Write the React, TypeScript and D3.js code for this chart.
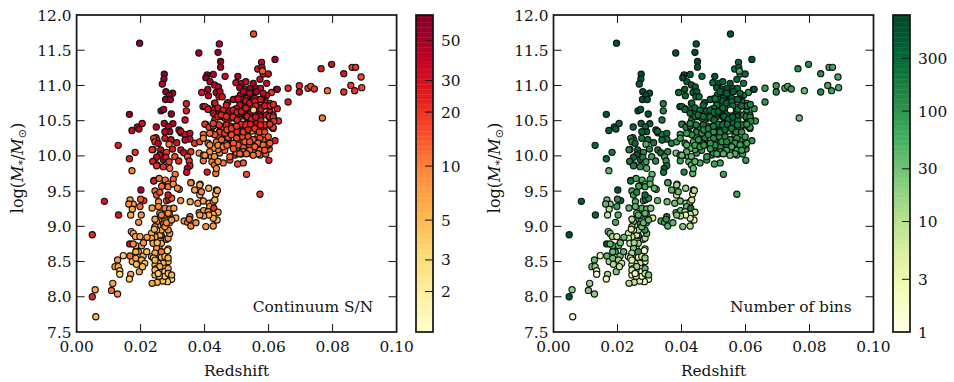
import React from 'react';
import * as d3 from 'd3';

// each row: redshift, log stellar mass, continuum S/N, number of bins
type Row = [number, number, number, number];

const lowMassOutliers: Row[] = [
  [.006,7.717,5,1],[.0058,8.1,6,18],[.0049,8.0,22,500],[.0049,8.88,22,500],[.0128,8.04,8,20],[.0109,8.09,12,22],[.0113,8.19,7,18],
  [.0087,9.355,28,400],[.0131,9.161,28,300],
];

const lowMassClump: Row[] = [
  [.0146,8.584,4,4],[.0128,8.522,8,35],[.012,8.428,7,25],[.013,8.428,6,20],[.0135,8.37,3,2],[.0135,8.32,3,1],[.0169,8.319,7,15],[.0165,8.253,4,3],
  [.0167,8.58,12,40],[.0174,8.5,5,15],[.0185,8.546,7,30],[.0193,8.64,6,40],[.0208,8.58,6,25],[.0185,8.64,6,35],[.0203,8.522,5,15],[.0213,8.475,5,8],
  [.0196,8.357,7,25],[.0187,8.46,5,12],[.0206,8.428,5,8],[.0185,8.726,6,50],[.0203,8.726,6,50],[.0219,8.64,5,40],[.0171,8.925,7,25],[.0177,8.9,8,30],
  [.0184,8.854,6,15],[.0198,8.854,6,6],[.0209,8.768,8,30],[.0166,8.75,30,400],[.0177,8.75,9,40],[.0234,8.83,6,6],[.022,8.844,7,35],[.0239,8.76,6,5],
  [.0252,8.768,5,15],[.0243,8.958,5,6],[.0167,9.374,7,30],[.0177,9.313,7,20],[.0163,9.317,9,40],[.021,9.365,20,300],[.02,9.384,15,120],[.0198,9.28,12,80],
  [.0174,9.242,6,12],[.0169,9.161,6,8],[.0202,9.161,9,50],[.0194,9.057,9,60],
];

const lowerColumn: Row[] = [
  [.0234,8.57,5,3],[.0252,8.64,8,30],[.0258,8.688,6,8],[.0255,8.593,5,6],[.0251,8.522,5,4],[.0265,8.56,5,5],[.0281,8.532,4,3],[.0286,8.5,4,4],
  [.027,8.475,5,6],[.0255,8.475,5,4],[.0245,8.45,5,5],[.0276,8.404,4,2],[.025,8.404,4,2],[.0245,8.31,4,3],[.0265,8.31,5,4],[.0276,8.357,3,1],
  [.0286,8.286,3,2],[.0297,8.248,3,2],[.0284,8.215,4,3],[.0269,8.224,5,5],[.0252,8.205,5,8],[.0236,8.191,7,12],[.0286,8.678,3,1],[.0284,8.655,3,2],
  [.0265,8.76,6,15],[.0281,8.816,6,10],[.0286,8.83,8,10],[.0265,8.868,20,100],[.026,8.877,6,6],[.0291,8.9,7,35],[.0286,8.948,9,100],[.0265,8.948,6,15],
  [.025,8.948,5,5],[.029,9.052,7,50],[.0255,9.02,6,12],[.0271,9.043,18,80],[.0258,9.1,8,30],[.0274,9.114,6,8],[.029,9.175,8,20],[.031,9.118,6,6],
  [.0276,9.256,10,50],[.0291,9.246,9,40],[.0304,9.256,7,25],[.0256,9.35,9,50],[.0256,9.28,9,40],[.0236,9.26,7,40],[.0281,9.365,12,60],[.0288,9.38,25,180],
  [.0297,9.398,14,120],[.0286,9.445,28,300],[.0245,9.502,12,60],[.025,9.445,14,80],[.026,9.483,16,150],[.0325,9.365,8,40],
];

const lowerColumnFill: Row[] = [
  [.0245,8.85,7,8],[.0234,8.9,6,6],[.025,9.07,7,20],[.0245,8.995,6,10],[.0271,9.15,10,60],[.0276,8.995,8,30],[.0281,9.05,9,40],[.0286,9.185,9,40],
  [.0297,9.09,8,40],[.026,9.185,9,30],[.0245,9.1,7,12],[.0265,9.16,10,40],[.025,8.69,8,25],[.0245,8.62,6,12],[.024,8.55,4,4],[.0265,8.64,12,100],
  [.0276,8.57,5,6],[.0286,8.55,6,20],[.0245,8.52,5,5],[.026,8.43,6,15],[.0286,8.4,6,40],[.0276,8.29,4,2],[.0258,8.29,5,4],[.0245,8.38,5,6],
  [.0286,8.33,5,10],[.0255,8.33,4,2],[.0297,8.31,6,25],
];

const midMassPatch: Row[] = [
  [.0355,9.35,7,35],[.0379,9.327,8,30],[.0396,9.36,7,30],[.0414,9.327,6,12],[.0427,9.346,7,10],[.0432,9.374,5,6],[.0416,9.28,9,40],[.0429,9.256,20,200],
  [.0442,9.2,6,8],[.0383,9.194,7,30],[.0397,9.223,8,35],[.0411,9.208,7,8],[.0427,9.17,6,5],[.0439,9.09,5,3],[.0427,9.114,6,6],[.0413,9.161,6,4],
  [.0397,9.147,7,12],[.0385,9.161,8,25],[.0404,8.996,8,25],[.0427,9.005,7,10],[.0336,9.076,8,60],[.0347,9.057,9,50],[.0354,9.137,10,100],[.0352,9.1,12,100],
  [.0357,9.005,10,50],[.0373,9.052,9,40],[.0385,9.445,5,6],[.039,9.492,10,40],[.0369,9.516,7,40],[.0357,9.62,10,60],[.0385,9.587,6,15],[.0413,9.54,6,15],
  [.0437,9.516,6,12],[.0435,9.46,5,5],[.0201,9.516,45,500],[.0241,9.644,25,200],[.0258,9.68,11,60],[.027,9.578,14,100],[.0286,9.563,12,70],[.0302,9.6,9,40],
  [.0321,9.525,10,50],[.0266,9.57,12,70],[.0315,9.54,9,40],[.044,9.51,6,10],
];

const midColumn: Row[] = [
  [.0173,9.79,10,40],[.0165,9.96,25,300],[.0183,10.05,20,200],[.013,10.15,25,300],[.0173,10.36,35,350],[.019,10.41,40,400],[.0205,10.46,30,300],[.0195,10.38,40,400],
  [.0165,10.59,60,500],[.0197,11.6,55,500],[.024,9.92,25,200],[.0252,9.87,20,150],[.0242,9.65,30,300],[.0239,10.09,18,150],[.0249,10.41,40,300],[.0248,10.26,25,200],
  [.0251,10.22,18,150],[.0236,10.088,20,150],[.0263,10.083,30,250],[.0269,10.036,25,200],[.0281,10.05,18,120],[.026,10.012,35,300],[.025,9.98,35,300],[.0271,9.95,45,350],
  [.0279,9.98,25,150],[.0238,9.92,25,200],[.025,9.86,20,150],[.0271,9.847,20,120],[.0289,9.918,18,80],[.0307,9.989,16,70],[.0319,9.927,22,120],[.0326,10.083,30,200],
  [.0335,10.045,35,250],[.0357,10.06,20,130],[.0347,9.989,14,80],[.0352,9.927,20,100],[.0354,9.861,25,150],[.0346,9.823,45,400],[.0344,9.766,30,200],[.0291,9.823,12,50],
  [.0308,9.738,11,40],[.0302,9.667,13,60],[.0277,9.657,11,50],[.0286,9.6,10,50],[.0241,10.249,20,150],[.0245,10.2,20,120],[.0255,10.178,40,300],[.0276,10.249,30,200],
  [.0295,10.23,35,250],[.0289,10.164,11,50],[.0313,10.187,30,200],[.03,10.097,25,150],[.0274,10.46,45,400],[.0301,10.457,45,400],[.0287,10.414,40,300],[.0291,10.344,50,450],
  [.0276,10.344,40,350],[.0296,10.594,55,500],[.0264,10.64,60,500],[.0272,10.66,50,450],[.0274,11.16,60,600],[.0273,11.09,50,500],[.0268,11.02,40,400],[.0279,10.91,60,600],
  [.03,10.89,50,500],[.0289,10.86,55,500],[.0278,10.8,60,600],[.0293,10.8,55,500],[.032,10.367,30,250],[.0326,10.329,30,250],[.0338,10.306,30,200],[.0354,10.32,35,250],
  [.0354,10.239,35,250],[.0339,10.225,40,300],[.0325,10.35,35,300],[.0343,10.74,25,150],[.0343,10.64,25,150],[.0339,10.51,30,200],
];

const orangeBand: Row[] = [
  [.0369,10.18,20,150],[.0385,10.2,16,90],[.0396,10.305,11,70],[.0401,10.45,20,160],[.0414,10.405,18,130],[.0427,10.424,20,170],[.0396,9.93,12,70],[.0383,10.04,7,25],
  [.0396,10.01,10,50],[.041,10.01,11,60],[.0421,9.99,9,40],[.0423,9.918,10,35],[.0431,9.87,11,50],[.0458,9.9,11,60],[.0479,9.94,18,90],[.0447,10.04,11,90],
  [.0463,10.08,12,90],[.0442,10.09,11,50],[.0427,10.107,9,35],[.0411,10.18,11,80],[.0416,10.155,9,45],[.0437,10.2,11,70],[.0446,10.27,13,100],[.0447,10.34,18,130],
  [.0458,10.405,20,160],[.0468,10.44,25,220],[.0446,10.44,20,160],[.0432,10.3,15,110],[.0473,10.26,16,130],[.0463,10.18,14,110],[.0408,9.77,25,150],[.0435,9.75,11,40],
  [.0437,9.82,9,35],[.0358,9.62,9,40],[.0386,9.6,6,12],[.0553,11.73,16,500],[.0531,9.738,16,70],[.0521,9.9,14,70],[.0503,9.885,16,70],[.0601,9.937,22,90],
  [.0484,10.155,16,90],[.0495,10.013,14,70],[.0515,10.027,14,50],[.0536,10.036,12,50],[.0552,10.06,11,60],[.0573,10.013,10,30],[.0591,10.027,14,70],[.0602,10.098,14,80],
  [.0599,10.155,11,60],[.0575,10.107,13,50],[.0557,10.216,9,110],[.0541,10.155,14,150],[.0521,10.131,15,110],[.05,10.107,15,110],[.0479,9.989,13,90],[.062,10.216,25,100],
  [.0583,10.226,14,110],[.0505,10.225,18,150],[.0521,10.263,20,170],[.0536,10.235,22,180],[.0557,10.225,10,90],[.0573,10.249,16,110],[.0594,10.154,14,70],[.049,10.178,20,170],
];

const orangeFill: Row[] = [
  [.0401,10.7,30,300],[.0411,10.66,28,280],[.0432,10.75,30,300],[.0442,10.68,28,260],[.0458,10.65,25,220],[.0468,10.72,28,260],[.0442,10.56,25,220],[.0452,10.58,22,190],
  [.0468,10.56,22,220],[.0427,10.46,18,130],[.0463,10.32,18,130],[.047,10.37,16,110],[.0453,10.23,13,90],[.0416,10.32,12,80],[.0396,10.25,10,70],[.0442,10.15,9,70],
  [.0458,10.13,10,80],[.047,10.15,13,90],[.0416,10.06,9,50],[.0431,9.99,8,40],[.0442,9.92,9,40],[.0401,10.01,8,35],
];

const massiveBlob: Row[] = [
  [.0382,11.46,50,500],[.0446,11.59,45,500],[.0442,11.47,55,600],[.045,11.34,60,600],[.045,11.26,50,500],[.0408,11.148,55,600],[.0404,11.11,60,600],[.0427,11.157,45,400],
  [.0417,11.054,45,400],[.0464,11.129,35,300],[.0504,11.129,50,500],[.0431,11.006,40,350],[.0443,10.98,40,350],[.041,10.945,45,400],[.0391,10.9,30,250],[.0412,10.855,40,300],
  [.0436,10.9,45,400],[.0448,10.91,40,350],[.0445,10.84,35,300],[.0455,10.84,30,250],[.0395,10.7,30,250],[.041,10.675,35,300],[.0431,10.746,40,350],[.043,10.66,30,250],
  [.0427,10.604,40,300],[.0445,10.637,25,150],[.0458,10.628,30,200],[.0472,10.755,35,300],[.0479,10.64,35,250],[.0493,10.651,35,300],[.0507,10.651,30,200],[.05,10.807,35,300],
  [.049,10.8,40,350],[.0498,11.039,35,300],[.0516,11.03,40,400],[.0529,11.053,35,300],[.051,10.968,45,450],[.0526,10.945,45,450],[.0542,10.959,55,550],[.0552,11.03,50,500],
  [.056,10.959,45,450],[.0575,10.959,35,300],[.0573,11.087,35,300],[.0583,11.162,25,120],[.0599,11.162,35,300],[.0566,11.233,30,250],[.0578,11.328,35,300],[.0579,11.257,40,350],
  [.0581,11.205,14,60],[.062,11.37,50,500],[.0594,11.03,35,200],[.0609,10.9,20,100],[.0625,10.945,55,550],[.0627,10.945,50,500],[.0594,10.86,30,200],[.0583,10.888,35,300],
  [.0552,10.864,40,350],[.0531,10.888,40,350],[.0512,10.864,35,300],[.0516,10.803,30,250],[.0536,10.793,35,250],[.0552,10.793,30,200],[.0568,10.793,35,250],[.0588,10.793,30,150],
  [.0604,10.746,20,80],[.0588,10.708,30,150],[.0573,10.689,30,150],[.0536,10.675,30,200],[.0523,10.722,25,150],[.051,10.722,30,200],[.0604,10.628,25,100],[.0627,10.67,25,100],
  [.0631,10.495,22,90],[.0616,10.523,25,100],[.0604,10.533,30,150],[.0573,10.604,30,200],[.0557,10.58,40,300],[.0542,10.58,35,300],[.0526,10.58,30,200],[.051,10.557,35,250],
  [.0495,10.533,30,200],[.0479,10.533,35,300],[.0464,10.533,25,150],[.0448,10.557,30,200],[.0432,10.509,25,150],[.0427,10.424,35,250],[.0404,10.448,25,120],[.0464,10.424,20,90],
  [.0479,10.424,25,120],[.0495,10.415,30,200],[.0516,10.438,30,200],[.0531,10.462,35,250],[.0547,10.486,25,150],[.0562,10.462,40,300],[.0578,10.438,25,120],[.0594,10.438,25,120],
  [.0609,10.415,18,70],[.0614,10.39,16,60],[.0578,10.344,14,50],[.0562,10.367,10,35],[.0531,10.367,20,100],[.051,10.344,18,80],[.0495,10.34,20,90],[.0448,10.353,14,60],
  [.0438,10.296,16,70],[.0425,10.32,14,60],[.0458,10.225,16,70],[.0474,10.249,18,90],[.0583,10.368,25,100],[.0604,10.462,20,90],[.0614,10.405,18,80],[.0593,10.58,30,150],
  [.0614,10.58,30,150],[.0573,10.557,35,250],[.0541,10.6,40,300],[.0531,10.547,35,250],[.051,10.6,35,250],[.0489,10.58,25,150],[.05,10.675,35,250],[.0526,10.65,40,300],
  [.0576,10.661,30,200],[.0604,10.708,25,100],[.0588,10.77,35,250],[.0578,10.803,25,120],[.0557,10.817,40,300],[.0531,10.817,35,300],[.0505,10.812,30,200],[.0541,10.888,40,350],
  [.0562,10.912,45,400],[.0521,10.912,40,350],[.0567,10.297,12,50],[.0521,10.273,20,90],[.05,10.344,22,100],[.0547,10.353,6,30],
];

const blobCore: Row[] = [
  [.0489,10.65,26,280],[.0502,10.62,24,240],[.0515,10.63,28,320],[.0529,10.78,30,360],[.0529,10.68,26,280],[.0541,10.75,30,360],[.0557,10.77,26,260],[.056,10.71,24,230],
  [.0575,10.8,28,300],[.0588,10.71,26,240],[.0606,10.71,20,130],[.0615,10.73,22,140],[.0489,10.55,22,220],[.0502,10.51,24,260],[.0515,10.45,22,200],[.0533,10.56,26,280],
  [.0547,10.52,24,240],[.056,10.55,30,360],[.0576,10.5,26,260],[.0588,10.44,22,170],[.0602,10.56,24,150],[.0614,10.55,22,130],[.0616,10.49,20,130],[.0604,10.45,20,110],
  [.0529,10.44,22,200],[.0543,10.45,24,220],[.0575,10.44,24,200],[.0484,10.39,18,160],[.05,10.42,20,180],[.0519,10.27,16,120],[.0521,10.34,18,140],[.0536,10.37,26,260],
  [.0557,10.39,20,170],[.0571,10.34,18,130],[.0588,10.34,18,110],[.0599,10.27,14,80],[.0484,10.3,16,120],[.05,10.25,16,120],[.0536,10.27,18,150],[.0552,10.23,14,100],
  [.0567,10.18,13,90],[.0583,10.155,12,70],[.0505,10.155,15,110],[.049,10.18,14,100],[.0526,10.2,14,100],[.0541,10.2,16,130],[.0557,10.13,12,60],[.0573,10.08,12,60],
  [.0541,10.08,13,70],[.0521,10.06,12,70],[.05,10.04,13,80],[.0588,10.08,14,70],[.0567,10.03,11,45],[.0552,10.01,11,30],[.0531,10.03,12,50],[.051,10.03,13,60],
  [.049,10.1,14,90],[.0604,10.18,13,70],
];

const highZTail: Row[] = [
  [.0661,10.96,20,80],[.0696,10.997,20,80],[.0696,10.907,30,120],[.0661,10.765,25,100],[.0723,10.96,17,60],[.0732,10.987,16,60],[.0743,10.95,20,80],[.0784,10.926,11,35],
  [.0768,10.538,11,30],[.0764,11.238,25,120],[.0797,11.3,30,120],[.0835,11.167,28,120],[.0861,11.257,18,70],[.0872,11.257,20,70],[.0889,11.12,16,60],[.0857,11.0,18,60],
  [.0891,10.969,18,60],[.0869,10.926,20,70],[.0835,10.907,20,120],[.0573,9.456,20,70],
];

// the one pale point in the middle of the blob sits on top of everything
const paleCentre: Row[] = [[.0553,10.651,3,1]];

const allRows: Row[] = [
  ...highZTail, ...massiveBlob, ...orangeBand, ...orangeFill, ...blobCore, ...paleCentre, ...midColumn, ...midMassPatch,
  ...lowerColumn, ...lowerColumnFill, ...lowMassClump, ...lowMassOutliers,
];

const xTicks = [0, 0.02, 0.04, 0.06, 0.08, 0.1];
const yTicks = [7.5, 8, 8.5, 9, 9.5, 10, 10.5, 11, 11.5, 12];
const snTicks = [2, 3, 5, 10, 20, 30, 50];
const binTicks = [1, 3, 10, 30, 100, 300];

const top = 15;
const bottom = 332;
const font = '"DejaVu Serif", serif';
const ink = '#111';

function ramp(colors: readonly string[]) {
  return d3.piecewise(d3.interpolateRgb, colors as string[]);
}

interface PanelProps {
  left: number;
  barLeft: number;
  domain: [number, number];
  ticks: number[];
  colors: readonly string[];
  field: 2 | 3;
  note: string;
  noteX: number;
}

function Panel({ left, barLeft, domain, ticks, colors, field, note, noteX }: PanelProps) {
  const right = left + 320;
  const x = d3.scaleLinear().domain([0, 0.1]).range([left, right]);
  const y = d3.scaleLinear().domain([7.5, 12]).range([bottom, top]);
  const c = d3.scaleLog().domain(domain).range([0, 1]).clamp(true);
  const bar = d3.scaleLog().domain(domain).range([bottom, top]);
  const cmap = ramp(colors);
  const barW = 17;
  const bands = d3.range(128);
  const bandH = (bottom - top) / bands.length;

  return (
    <g fontFamily={font} fontSize={15.4} fill="#111">
      <g stroke={ink} strokeWidth={1}>
        {xTicks.slice(1, -1).map(t => (
          <g key={t}>
            <line x1={x(t)} x2={x(t)} y1={bottom} y2={bottom - 8} />
            <line x1={x(t)} x2={x(t)} y1={top} y2={top + 8} />
          </g>
        ))}
        {yTicks.slice(1, -1).map(t => (
          <g key={t}>
            <line x1={left} x2={left + 8} y1={y(t)} y2={y(t)} />
            <line x1={right} x2={right - 8} y1={y(t)} y2={y(t)} />
          </g>
        ))}
      </g>
      {allRows.map((d, i) => (
        <circle key={i} cx={x(d[0])} cy={y(d[1])} r={3.1} fill={cmap(c(d[field]))} stroke="#111" strokeWidth={1.15} />
      ))}
      <rect x={left} y={top} width={320} height={bottom - top} fill="none" stroke={ink} strokeWidth={1.7} />
      {xTicks.map(t => (
        <text key={t} x={x(t)} y={352} textAnchor="middle">{t.toFixed(2)}</text>
      ))}
      {yTicks.map(t => (
        <text key={t} x={left - 5} y={y(t) + 5.5} textAnchor="end">{t.toFixed(1)}</text>
      ))}
      <text x={left + 160} y={376} textAnchor="middle">Redshift</text>
      <text transform={`translate(${left - 54},168) rotate(-90)`} textAnchor="middle" fontSize={16}>
        log<tspan>(</tspan><tspan fontStyle="italic">M</tspan><tspan fontSize={11} dy={3} fontStyle="italic">*</tspan>
        <tspan dy={-3}>/</tspan><tspan fontStyle="italic">M</tspan><tspan fontSize={11} dy={3} fontFamily='"DejaVu Sans"'>⊙</tspan><tspan dy={-3}>)</tspan>
      </text>
      <text x={noteX} y={312}>{note}</text>

      {bands.map(i => (
        <rect key={i} x={barLeft} y={bottom - (i + 1) * bandH} width={barW} height={bandH + 0.4}
          fill={cmap((i + 0.5) / bands.length)} />
      ))}
      <rect x={barLeft} y={top} width={barW} height={bottom - top} fill="none" stroke={ink} strokeWidth={1.7} />
      {ticks.map(t => (
        <g key={t}>
          {t !== domain[0] && <line x1={barLeft + barW} x2={barLeft + barW - 8} y1={bar(t)} y2={bar(t)} stroke={ink} />}
          <text x={barLeft + barW + 8} y={bar(t) + 5.5}>{t}</text>
        </g>
      ))}
    </g>
  );
}

export default function App() {
  return (
    <svg width={954} height={382} style={{ position: 'absolute', left: 0, top: 0 }}>
      <rect width={954} height={382} fill="#fff" />
      <Panel left={76.6} barLeft={416} domain={[1.19, 69.5]} ticks={snTicks} colors={d3.schemeYlOrRd[9]} field={2} note="Continuum S/N" noteX={252.7} />
      <Panel left={553.5} barLeft={893} domain={[1, 740]} ticks={binTicks} colors={d3.schemeYlGn[9]} field={3} note="Number of bins" noteX={730} />
    </svg>
  );
}
